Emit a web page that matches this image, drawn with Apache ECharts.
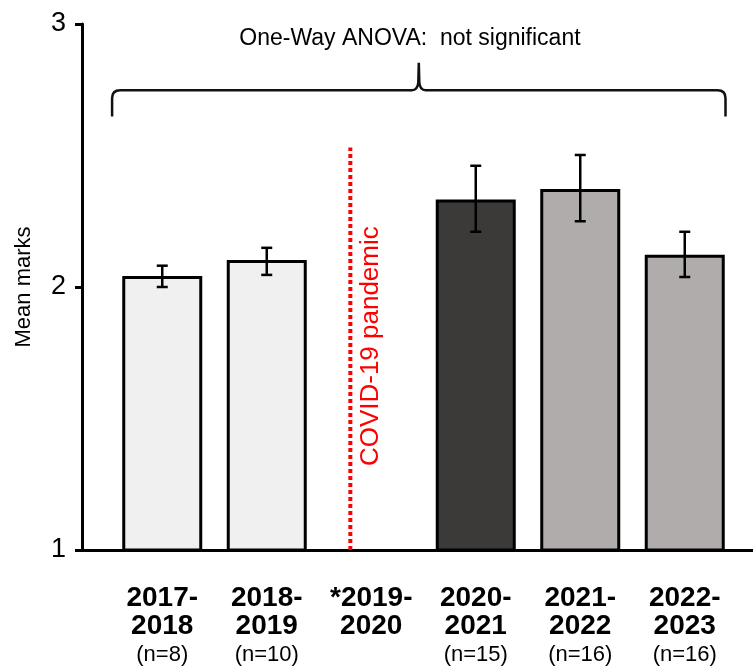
<!DOCTYPE html>
<html><head><meta charset="utf-8">
<script src="https://cdn.jsdelivr.net/npm/echarts@6/dist/echarts.min.js"></script>
<style>html,body{margin:0;padding:0;background:#fff}#c{width:753px;height:666px}</style>
</head><body><div id="c"></div>
<script>
const categories = ['2017-\n2018','2018-\n2019','*2019-\n2020','2020-\n2021','2021-\n2022','2022-\n2023'];
const sampleSizes = ['(n=8)','(n=10)','','(n=15)','(n=16)','(n=16)'];
const meanMarks = [2.042, 2.103, null, 2.333, 2.373, 2.123];
const errLow = [2.0, 2.046, null, 2.21, 2.25, 2.038];
const errHigh = [2.081, 2.149, null, 2.461, 2.502, 2.21];
const barColors = ['#f0f0f0','#f0f0f0',null,'#3b3a38','#b0acab','#b0acab'];
const yMin = 1, yMax = 3, yInterval = 1;
const pandemicLine = [[1.8, 1.0],[1.8, 2.53]];
const pandemicLabel = 'COVID-19 pandemic';
const pandemicLabelPos = [2.0, 1.775];
const brace = [-0.48, 5.39, 2.648, 2.748, 2.853];
const anovaText = 'One-Way ANOVA:  not significant';
const anovaPos = [2.37, 2.945];

const FONT = '"Liberation Sans", Arial, sans-serif';
const chart = echarts.init(document.getElementById('c'), null, {renderer:'canvas'});

const barData = meanMarks.map((v,i)=> v==null ? '-' : {value:v, itemStyle:{color:barColors[i]}});
const errData = meanMarks.map((v,i)=> v==null ? null : [i, errLow[i], errHigh[i]]).filter(d=>d);

function textSeries(pos, text, opts){
  return {type:'custom', xAxisIndex:1, yAxisIndex:0, data:[pos], z:6,
    encode:{x:0, y:1},
    renderItem:(params, api)=>{
      const p = api.coord([api.value(0), api.value(1)]);
      return {type:'text', x:p[0], y:p[1], rotation:opts.rotation||0,
        style:{text:text, fill:opts.color, font:opts.font, align:'center', verticalAlign:'middle'}};
    }};
}

chart.setOption({
  animation:false,
  backgroundColor:'#fff',
  grid:[
    {left:110, right:16, top:24, bottom:116},
    {left:82, right:0, top:24, bottom:116}
  ],
  xAxis:[
    {type:'category', gridIndex:0, data:categories,
     axisLine:{show:false}, axisTick:{show:false},
     axisLabel:{interval:0, margin:34, color:'#000', fontFamily:FONT,
       formatter:(v,i)=>{
         const lines = v.split('\n').map(s=>'{b|'+s+'}');
         const n = sampleSizes[i] ? '\n{n|'+sampleSizes[i]+'}' : '';
         return lines.join('\n') + n;
       },
       rich:{
         b:{fontSize:28, fontWeight:'bold', lineHeight:28, color:'#000', fontFamily:FONT},
         n:{fontSize:22, lineHeight:30, color:'#000', fontFamily:FONT}
       }}},
    {type:'value', gridIndex:0, min:-0.5, max:5.5, show:false},
    {type:'value', gridIndex:1, min:0, max:1,
     axisLine:{show:true, onZero:false, lineStyle:{color:'#000', width:3}},
     axisTick:{show:false}, axisLabel:{show:false}, splitLine:{show:false}}
  ],
  yAxis:[
    {type:'value', gridIndex:0, min:yMin, max:yMax, interval:yInterval, offset:28,
     name:'Mean marks', nameLocation:'middle', nameGap:47,
     nameTextStyle:{fontSize:22, color:'#000', fontFamily:FONT},
     axisLine:{show:true, onZero:false, lineStyle:{color:'#000', width:3}},
     axisTick:{show:true, length:7, lineStyle:{color:'#000', width:3}},
     axisLabel:{fontSize:27, color:'#000', margin:16, fontFamily:FONT, padding:[5,0,0,0]},
     splitLine:{show:false}},
    {type:'value', gridIndex:0, min:yMin, max:yMax, interval:yInterval, offset:28,
     axisLine:{show:false, onZero:false},
     axisTick:{show:true, inside:true, length:6, lineStyle:{color:'#000', width:3}},
     axisLabel:{show:false}, splitLine:{show:false}},
    {type:'value', gridIndex:1, min:0, max:1, show:false}
  ],
  series:[
    {type:'bar', xAxisIndex:0, yAxisIndex:0, data:barData, barWidth:80,
     itemStyle:{borderColor:'#000', borderWidth:3}, z:3},
    {type:'custom', xAxisIndex:0, yAxisIndex:0, data:errData, z:5,
     encode:{x:0, y:[1,2]},
     renderItem:(params, api)=>{
       const x = api.value(0);
       const lo = api.coord([x, api.value(1)]);
       const hi = api.coord([x, api.value(2)]);
       const hw = 5.5;
       const st = {stroke:'#000', lineWidth:2.5};
       return {type:'group', children:[
         {type:'line', shape:{x1:lo[0], y1:lo[1], x2:hi[0], y2:hi[1]}, style:st},
         {type:'line', shape:{x1:lo[0]-hw, y1:lo[1], x2:lo[0]+hw, y2:lo[1]}, style:st},
         {type:'line', shape:{x1:hi[0]-hw, y1:hi[1], x2:hi[0]+hw, y2:hi[1]}, style:st}
       ]};
     }},
    {type:'line', xAxisIndex:1, yAxisIndex:0, data:pandemicLine, symbol:'none', z:4,
     lineStyle:{color:'#ff0000', width:4, type:[4,3]}},
    textSeries(pandemicLabelPos, pandemicLabel, {rotation:Math.PI/2, color:'#ff0000', font:'26px '+FONT}),
    {type:'custom', xAxisIndex:1, yAxisIndex:0, data:[brace], z:4,
     encode:{x:[0,1], y:[2,3,4]},
     renderItem:(params, api)=>{
       const x0 = api.value(0), x1 = api.value(1);
       const pL = api.coord([x0, api.value(2)]);
       const pR = api.coord([x1, api.value(2)]);
       const H = api.coord([x0, api.value(3)])[1];
       const T = api.coord([x0, api.value(4)])[1];
       const L = pL[0], R = pR[0], B = pL[1];
       const C = (L+R)/2, r = 8;
       const d = `M${L} ${B} L${L} ${H+r} Q${L} ${H} ${L+r} ${H} L${C-7} ${H} `+
                 `Q${C-1} ${H} ${C-0.5} ${H-8} L${C} ${T} L${C+0.5} ${H-8} `+
                 `Q${C+1} ${H} ${C+7} ${H} L${R-r} ${H} Q${R} ${H} ${R} ${H+r} L${R} ${B}`;
       return {type:'path', shape:{pathData:d}, style:{stroke:'#111', fill:'none', lineWidth:2.5}};
     }},
    textSeries(anovaPos, anovaText, {color:'#000', font:'23px '+FONT})
  ]
});
</script></body></html>
